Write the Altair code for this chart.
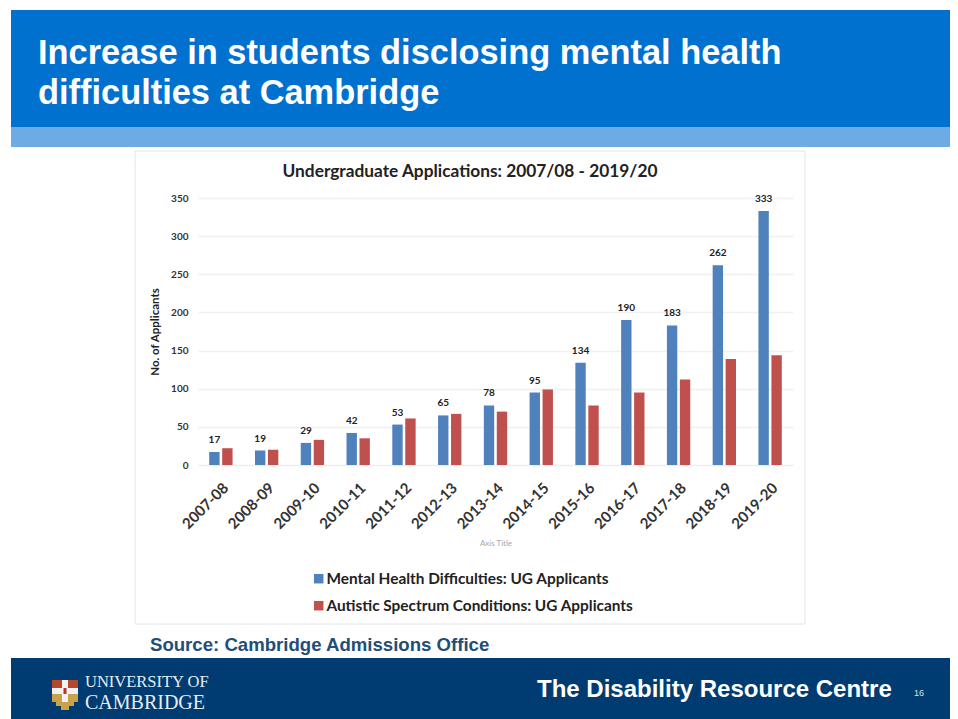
import altair as alt
import pandas as pd

# ---- data ----
years = ["2007-08","2008-09","2009-10","2010-11","2011-12","2012-13","2013-14",
         "2014-15","2015-16","2016-17","2017-18","2018-19","2019-20"]
mental = [17,19,29,42,53,65,78,95,134,190,183,262,333]
autistic = [22,20,33,35,61,67,70,99,78,95,112,139,144]
series_names = ["Mental Health Difficulties: UG Applicants","Autistic Spectrum Conditions: UG Applicants"]
series_colors = ["#4F81BD","#C0504D"]

rows = [{"year":y,"series":series_names[0],"value":v} for y,v in zip(years,mental)] + \
       [{"year":y,"series":series_names[1],"value":v} for y,v in zip(years,autistic)]
df = pd.DataFrame(rows)

PL, PT = 190, 190      # plot origin within the canvas
OX, OY = PL + 8, PT + 8 # plot origin on the page
W, H = 595, 267
CANVAS_W, CANVAS_H = 942, 711
blank = alt.Data(values=[{"k":0}])

def box(x0, y0, x1, y1, fill=None, stroke=None):
    kw = {"fill": fill} if fill else {"fillOpacity": 0, "stroke": stroke, "strokeWidth": 1}
    return alt.Chart(blank).mark_rect(**kw).encode(
        x=alt.value(x0-OX), x2=alt.value(x1-OX), y=alt.value(y0-OY), y2=alt.value(y1-OY))

def label(txt, x, y, size, color, font="Liberation Sans", weight="normal", align="left", angle=0):
    return alt.Chart(blank).mark_text(text=txt, fontSize=size, color=color, font=font,
        fontWeight=weight, align=align, baseline="alphabetic", angle=angle).encode(
        x=alt.value(x-OX), y=alt.value(y-OY))

deco = [
    box(11,10,958,127,fill="#0071CE"),
    box(11,127,958,147,fill="#6CABE3"),
    box(135,151,805,624,stroke="#E4E4E4"),
    box(11,658,958,719,fill="#003C71"),
    label("Increase in students disclosing mental health",38,64,34.4,"white",weight="bold"),
    label("difficulties at Cambridge",38,104,34.4,"white",weight="bold"),
    label("Undergraduate Applications: 2007/08 - 2019/20",470,177,17.3,"#222222",font="Lato",weight="bold",align="center"),
    label("Source: Cambridge Admissions Office",150,651,18.6,"#1F4E79",weight="bold"),
    label("The Disability  Resource Centre",537,697,24,"white",weight="bold"),
    label("16",914,696,9,"#D8E0E8"),
    label("UNIVERSITY OF",85,687,16.5,"#E8ECF0",font="Liberation Serif"),
    label("CAMBRIDGE",85,709,20,"#E8ECF0",font="Liberation Serif"),
    box(52,680,78,702,fill="#C9A24A"),
    box(52,680,62,688,fill="#B5482A"),
    box(68,680,78,688,fill="#B5482A"),
    box(62,680,68,702,fill="#F2F2F2"),
    box(52,688,78,694,fill="#F2F2F2"),
    box(63.5,688,66.5,694,fill="#B5352A"),
    box(56,702,74,706,fill="#C9A24A"),
    box(61,706,69,710,fill="#C9A24A"),
]

x_enc = alt.X("year:N", sort=years, scale=alt.Scale(paddingInner=0.49, paddingOuter=0.245),
    axis=alt.Axis(title="Axis Title", titleColor="#A8A8A8", titleFontSize=8, titleFontWeight="normal",
        titleFont="Lato", titlePadding=8, labelAngle=-45, labelAlign="right", labelBaseline="middle",
        labelFont="Lato", labelFontWeight="bold", labelFontSize=15, labelColor="#333333",
        labelPadding=20, labelOffset=5, ticks=False, domainColor="#EDEDED", grid=False, labelOverlap=False))
y_enc = alt.Y("value:Q", scale=alt.Scale(domain=[0,350], nice=False),
    axis=alt.Axis(title="No. of Applicants", values=[0,50,100,150,200,250,300,350], titleFont="Lato",
        titleFontSize=11.5, titleFontWeight="bold", titleColor="#222222", titlePadding=10,
        labelFont="Lato", labelFontSize=10, labelFontWeight="bold", labelColor="#333333", labelOverlap=False,
        labelPadding=10, ticks=False, domain=False, gridColor="#F0F0F0", gridWidth=1.5))
xo = alt.XOffset("series:N", sort=series_names, scale=alt.Scale(paddingInner=0.2))

bars = alt.Chart(df).mark_bar().encode(
    x=x_enc, y=y_enc, xOffset=xo,
    color=alt.Color("series:N", sort=series_names,
        scale=alt.Scale(domain=series_names, range=series_colors),
        legend=alt.Legend(title=None, orient="none", legendX=311-OX, legendY=571-OY, direction="vertical",
            symbolType="square", symbolSize=90, symbolStrokeWidth=0, labelFont="Lato", labelFontWeight="bold",
            labelFontSize=15.4, labelColor="#222222", rowPadding=10, labelOffset=0, labelLimit=400)))

texts = alt.Chart(df).transform_filter(alt.datum.series == series_names[0]).mark_text(
    baseline="bottom", dy=-7, font="Lato", fontSize=10, fontWeight="bold", color="#222222").encode(
    x=x_enc, y=y_enc, xOffset=xo, text="value:Q")

chart = alt.layer(*deco, bars, texts).properties(
    width=W, height=H,
    autosize=alt.AutoSizeParams(type="none"),
    padding={"left":PL,"top":PT,"right":CANVAS_W-PL-W,"bottom":CANVAS_H-PT-H},
    background="white",
).configure_view(stroke=None)

chart.save("out.html", embed_options={"renderer":"svg","actions":False})
